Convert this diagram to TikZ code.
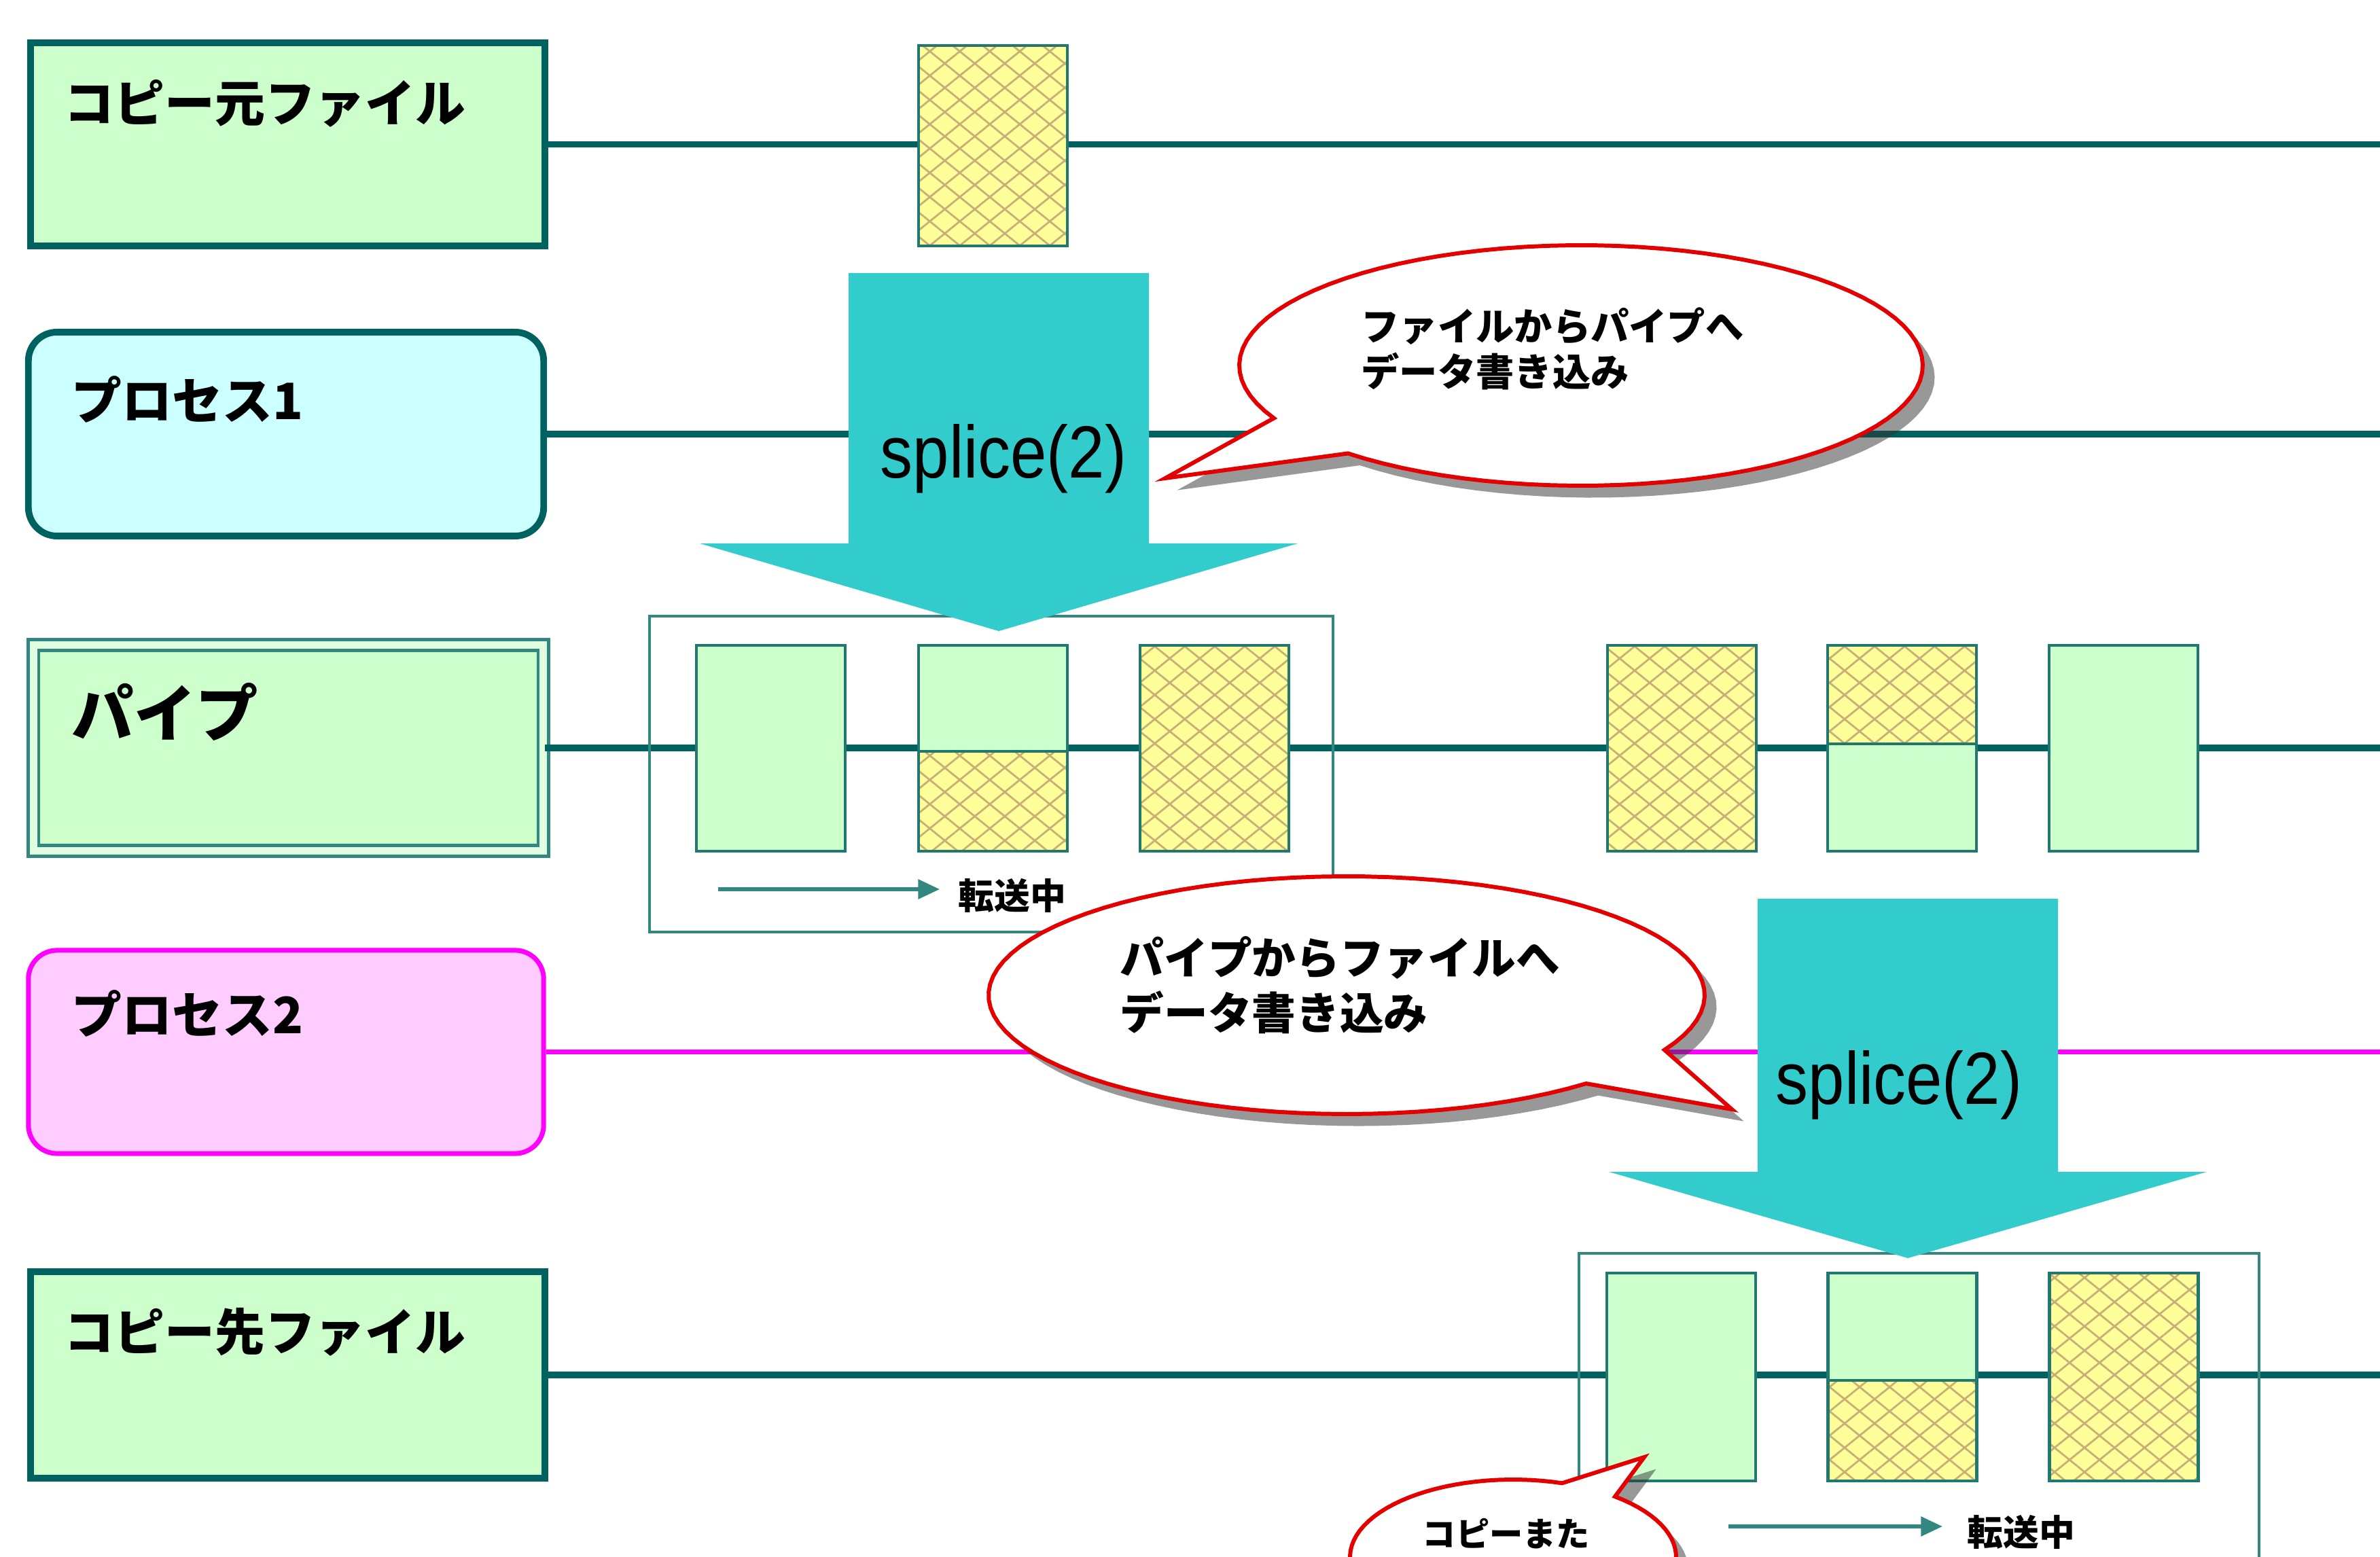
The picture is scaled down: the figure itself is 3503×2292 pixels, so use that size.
\documentclass[tikz,border=0pt]{standalone}
\usepackage{fontspec}
\newfontfamily\jp{Noto Sans CJK JP}
\newfontfamily\arialf{Liberation Sans}[FakeStretch=0.88]
\usetikzlibrary{patterns.meta,arrows.meta,shadows}
\definecolor{tealD}{RGB}{0,98,96}
\definecolor{blockc}{RGB}{32,120,112}
\definecolor{framec}{RGB}{50,135,128}
\definecolor{grn}{RGB}{204,255,204}
\definecolor{cyanbox}{RGB}{204,255,255}
\definecolor{pinkbox}{RGB}{255,204,255}
\definecolor{mag}{RGB}{255,0,255}
\definecolor{yel}{RGB}{255,255,153}
\definecolor{hatchc}{RGB}{200,175,120}
\definecolor{arrc}{RGB}{51,204,204}
\definecolor{redc}{RGB}{228,0,0}
\begin{document}
\begin{tikzpicture}[x=0.01cm,y=-0.01cm,
  lane/.style={draw=tealD,line width=2.6pt},
  maglane/.style={draw=mag,line width=2pt},
  filebox/.style={draw=tealD,line width=2.8pt,fill=grn,inner sep=0pt,minimum width=7.57cm,minimum height=2.99cm},
  procbox/.style={draw=tealD,line width=2.8pt,fill=cyanbox,rounded corners=12pt,inner sep=0pt,minimum width=7.58cm,minimum height=3.0cm},
  proc2box/.style={draw=mag,line width=2pt,fill=pinkbox,rounded corners=12pt,inner sep=0pt,minimum width=7.58cm,minimum height=2.99cm},
  pipebox/.style={draw=framec,line width=1.3pt,double=grn!60!white,double distance=3.2pt,fill=grn,inner sep=0pt,minimum width=7.5cm,minimum height=3.03cm},
  lbl/.style={anchor=west,inner sep=0pt,font=\jp\bfseries\fontsize{21pt}{25pt}\selectfont},
  greenblk/.style={draw=blockc,line width=1.3pt,fill=grn,inner sep=0pt,minimum width=2.19cm},
  yelblk/.style={draw=blockc,line width=1.3pt,fill=yel,inner sep=0pt,minimum width=2.19cm,
    postaction={pattern={Lines[angle=39,distance=7.9pt,line width=0.8pt]},pattern color=hatchc},
    postaction={pattern={Lines[angle=-39,distance=7.9pt,line width=0.8pt]},pattern color=hatchc},
    postaction={draw=blockc,line width=1.3pt}},
  framebox/.style={draw=framec,line width=1.1pt,inner sep=0pt},
  smallarr/.style={draw=framec,line width=1.6pt,-{Triangle[length=9pt,width=8pt]}},
  smalltxt/.style={anchor=west,inner sep=0pt,font=\jp\bfseries\fontsize{15pt}{18pt}\selectfont},
  bigarrow/.style={fill=arrc},
  splicetxt/.style={inner sep=0pt,font=\arialf\fontsize{31pt}{34pt}\selectfont},
  bubble/.style={draw=redc,line width=1.7pt,fill=white,
    drop shadow={shadow xshift=5pt,shadow yshift=-5pt,fill=black!80,opacity=0.5}},
  bubtxt/.style={anchor=west,align=left,inner sep=0pt,font=\jp\bfseries\fontsize{16pt}{19pt}\selectfont}
]
\useasboundingbox (0,0) rectangle (3503,2292);
\fill[white] (0,0) rectangle (3503,2292);

% lane boxes
\node[filebox] (src) at (423.5,212.5) {};
\node[procbox] (p1) at (421,639) {};
\node[pipebox] (pipe) at (424.5,1101) {};
\node[proc2box] (p2) at (421,1548.5) {};
\node[filebox,minimum height=3.04cm] (dst) at (423.5,2024) {};

\node[lbl] (srcT) at (94,152) {コピー元ファイル};
\node[lbl] (p1T) at (105,588) {プロセス1};
\node[lbl,font=\jp\bfseries\fontsize{26pt}{30pt}\selectfont] (pipeT) at (105,1048) {パイプ};
\node[lbl] (p2T) at (105,1492) {プロセス2};
\node[lbl] (dstT) at (94,1961) {コピー先ファイル};

% lane lines
\coordinate (e1) at (3503,212.5);
\coordinate (e2) at (3503,639);
\coordinate (e3) at (3503,1101);
\coordinate (e4) at (3503,1548.5);
\coordinate (e5) at (3503,2024);
\draw[lane] (src.east) -- (e1);
\draw[lane] (p1.east) -- (e2);
\draw[lane] (pipe.east) -- (e3);
\draw[maglane] (p2.east) -- (e4);
\draw[lane] (dst.east) -- (e5);

% frames
\node[framebox,minimum width=10.06cm,minimum height=4.65cm] (fr1) at (1459,1139.5) {};
\node[framebox,minimum width=10.01cm,minimum height=6.55cm] (fr2) at (2824.5,2172.5) {};

% source file block
\node[yelblk,minimum height=2.95cm] (s1) at (1461.5,214.5) {};

% pipe blocks
\node[greenblk,minimum height=3.03cm] (b1) at (1134.5,1101.5) {};
\node[greenblk,minimum height=1.56cm] (b2t) at (1461.5,1028) {};
\node[yelblk,minimum height=1.47cm] (b2b) at (1461.5,1179.5) {};
\node[yelblk,minimum height=3.03cm] (b3) at (1787.5,1101.5) {};
\node[yelblk,minimum height=3.03cm] (b4) at (2475.5,1101.5) {};
\node[yelblk,minimum height=1.45cm] (b5t) at (2799.5,1022.5) {};
\node[greenblk,minimum height=1.58cm] (b5b) at (2799.5,1174) {};
\node[greenblk,minimum height=3.03cm] (b6) at (3125.5,1101.5) {};

% destination blocks
\node[greenblk,minimum height=3.06cm] (b7) at (2474.5,2027) {};
\node[greenblk,minimum height=1.58cm] (b8t) at (2800,1953) {};
\node[yelblk,minimum height=1.48cm] (b8b) at (2800,2106) {};
\node[yelblk,minimum height=3.06cm] (b9) at (3126,2027) {};

% small transfer arrows
\coordinate (a1s) at (1057,1309);
\coordinate (a1e) at (1383,1309);
\draw[smallarr] (a1s) -- (a1e);
\node[smalltxt] (t1) at (1410,1318) {転送中};
\coordinate (a2s) at (2544,2247);
\coordinate (a2e) at (2859,2247);
\draw[smallarr] (a2s) -- (a2e);
\node[smalltxt] (t2) at (2895,2255) {転送中};

% big arrows
\fill[bigarrow] (1249,402) -- (1691,402) -- (1691,800) -- (1910,800) -- (1470,929) -- (1030,800) -- (1249,800) -- cycle;
\node[splicetxt] (sp1) at (1477,675) {splice(2)};
\fill[bigarrow] (2587,1323) -- (3029,1323) -- (3029,1725) -- (3248,1725) -- (2808,1852) -- (2368,1725) -- (2587,1725) -- cycle;
\node[splicetxt] (sp2) at (2795,1597) {splice(2)};

% callouts
\coordinate (c1tip) at (1715,704);
\draw[bubble] plot[domain=154:493,samples=90,variable=\t] ({2327+503*cos(\t)},{538+177*sin(\t)}) -- (c1tip) -- cycle;
\node[bubtxt] (c1T) at (2003,513) {ファイルからパイプへ\\データ書き込み};

\coordinate (c2tip) at (2549,1633);
\draw[bubble] plot[domain=48:387.4,samples=90,variable=\t] ({1982+527*cos(\t)},{1465+175*sin(\t)}) -- (c2tip) -- cycle;
\node[bubtxt,font=\jp\bfseries\fontsize{18.4pt}{23pt}\selectfont] (c2T) at (1648,1450) {パイプからファイルへ\\データ書き込み};

\coordinate (c3tip) at (2420,2145);
\draw[bubble] plot[domain=308.7:647.5,samples=90,variable=\t] ({2227+240*cos(\t)},{2292+114*sin(\t)}) -- (c3tip) -- cycle;
\node[inner sep=0pt,font=\jp\bfseries\fontsize{14pt}{17pt}\selectfont] (c3T) at (2217,2258) {コピーまた};
\end{tikzpicture}
\end{document}
